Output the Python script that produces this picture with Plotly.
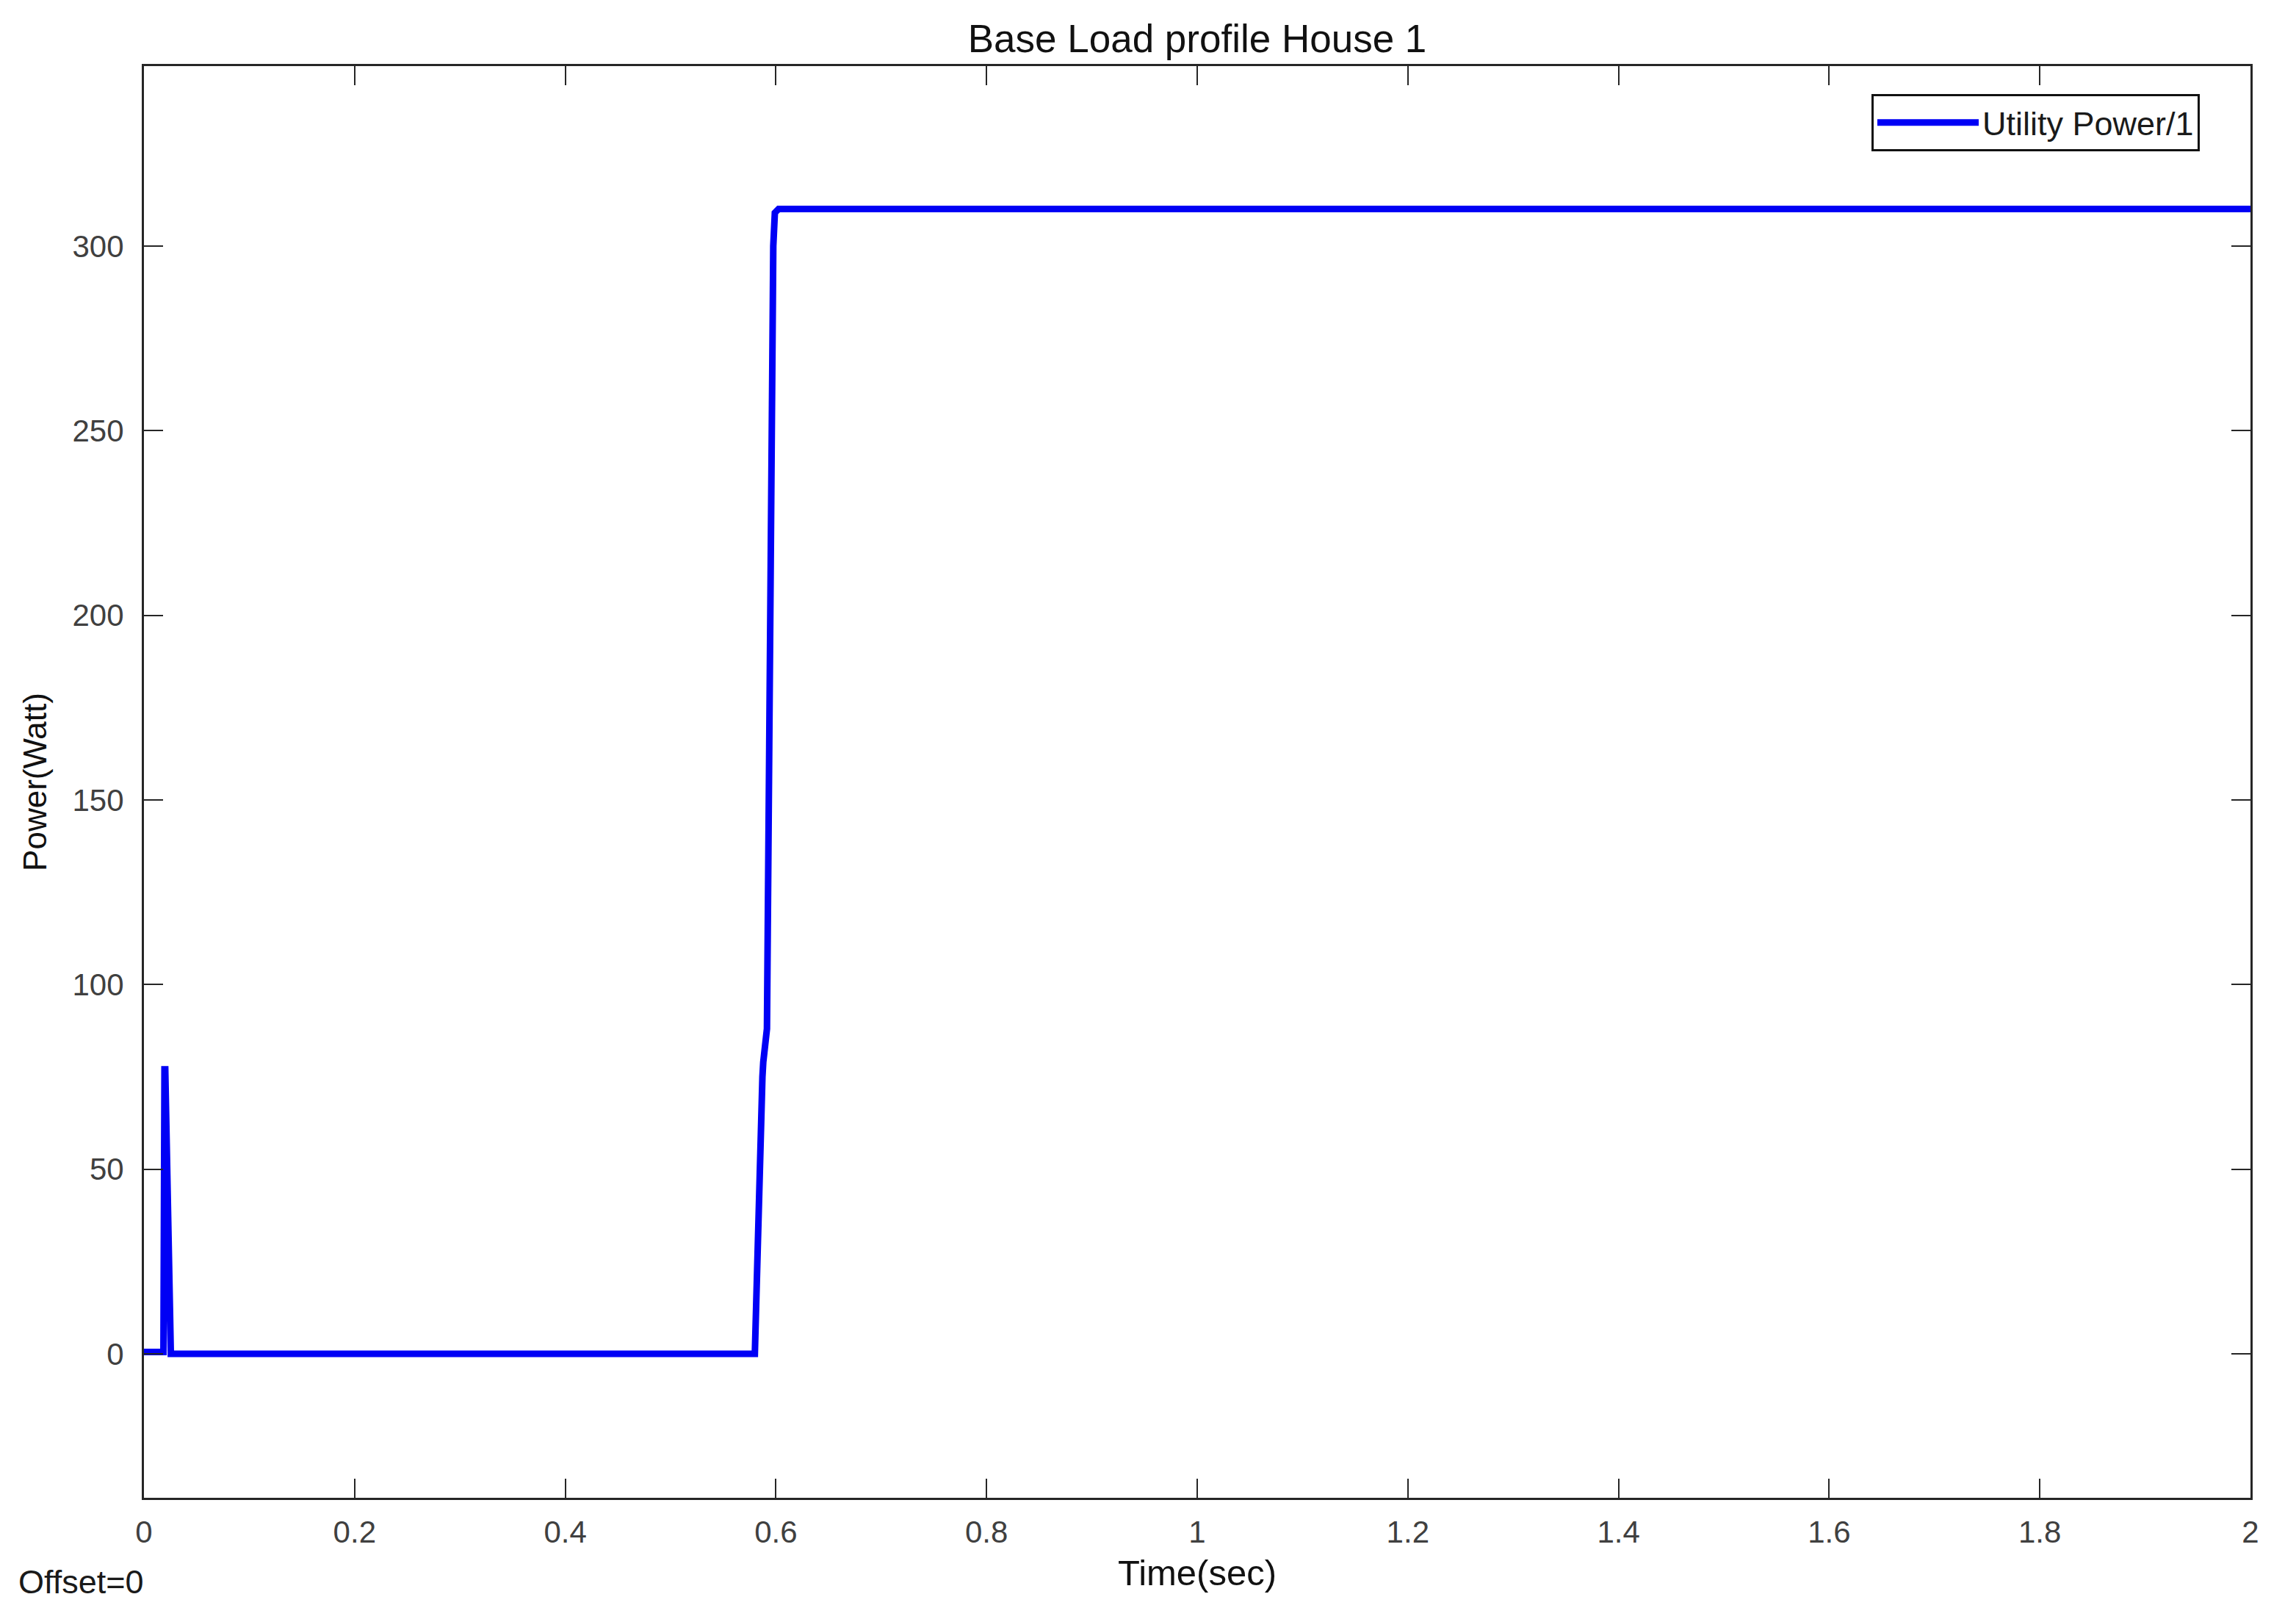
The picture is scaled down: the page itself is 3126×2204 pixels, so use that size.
import plotly.graph_objects as go

# ---- data ----
time_sec = [0.0, 0.0185, 0.0195, 0.0202, 0.0255, 0.0300, 0.580, 0.5872, 0.5880,
            0.5915, 0.5948, 0.5975, 0.5990, 0.6025, 2.0]
power_w = [0.5, 0.5, 77.0, 77.0, 0.0, 0.0, 0.0, 75.0, 79.0,
           88.0, 227.0, 300.0, 309.0, 310.0, 310.0]
series_name = "Utility Power/1"

x_ticks = [0, 0.2, 0.4, 0.6, 0.8, 1.0, 1.2, 1.4, 1.6, 1.8, 2.0]
x_tick_labels = ["0", "0.2", "0.4", "0.6", "0.8", "1", "1.2", "1.4", "1.6", "1.8", "2"]
y_ticks = [0, 50, 100, 150, 200, 250, 300]
y_tick_labels = ["0", "50", "100", "150", "200", "250", "300"]

# page has an 8px body margin; work in figure coordinates
OFF = 8
W, H = 3126 - 2 * OFF, 2204 - 2 * OFF
PL, PR, PT, PB = 196 - OFF, 3064 - OFF, 90 - OFF, 2039 - OFF   # plot area in figure px
L, R, T, B = PL, W - PR, PT, H - PB
PW, PH = PR - PL, PB - PT


def px_to_paper(xp, yp):
    """page pixel -> paper coordinates"""
    return (xp - OFF - PL) / PW, (PB - (yp - OFF)) / PH


FONT = "Liberation Sans, Arial, Helvetica, sans-serif"
AX = "#262626"

fig = go.Figure()
fig.add_trace(go.Scatter(
    x=time_sec, y=power_w, mode="lines", name=series_name,
    line=dict(color="#0000f5", width=9),
    showlegend=True,
))

axis_common = dict(
    showline=True, mirror="ticks", linecolor=AX, linewidth=3,
    ticks="inside", ticklen=26, tickwidth=2, tickcolor=AX,
    showgrid=False, zeroline=False,
    tickfont=dict(family=FONT, size=42, color="#404040"),
)

leg_x, leg_y = px_to_paper(2548, 128)
off_x, off_y = px_to_paper(23, 2153)

fig.update_layout(
    width=W, height=H,
    margin=dict(l=L, r=R, t=T, b=B, pad=0),
    paper_bgcolor="white", plot_bgcolor="white",
    font=dict(family=FONT, color="#1a1a1a"),
    title=dict(text="Base Load profile House 1", x=(PL + PR) / 2 / W, xanchor="center",
               y=1 - (52 - OFF) / H, yanchor="middle", yref="container",
               font=dict(family=FONT, size=53, color="#111111")),
    xaxis=dict(range=[0, 2], tickvals=x_ticks, ticktext=x_tick_labels,
               title=dict(text="Time(sec)", font=dict(family=FONT, size=49, color="#111111"),
                          standoff=16),
               ticklabelstandoff=8,
               **axis_common),
    yaxis=dict(range=[-39.0, 348.7], tickvals=y_ticks, ticktext=y_tick_labels,
               title=dict(text="Power(Watt)", font=dict(family=FONT, size=44, color="#111111"),
                          standoff=22),
               ticklabelstandoff=16,
               **axis_common),
    legend=dict(x=leg_x, y=leg_y,
                xanchor="left", yanchor="top",
                bgcolor="rgba(255,255,255,0)", bordercolor="#111111", borderwidth=3,
                font=dict(family=FONT, size=45, color="#1a1a1a"),
                itemwidth=138),
    annotations=[dict(text="Offset=0", xref="paper", yref="paper",
                      x=off_x, y=off_y,
                      xanchor="left", yanchor="middle", showarrow=False,
                      font=dict(family=FONT, size=45, color="#1a1a1a"))],
)

fig.write_html("out.html")
